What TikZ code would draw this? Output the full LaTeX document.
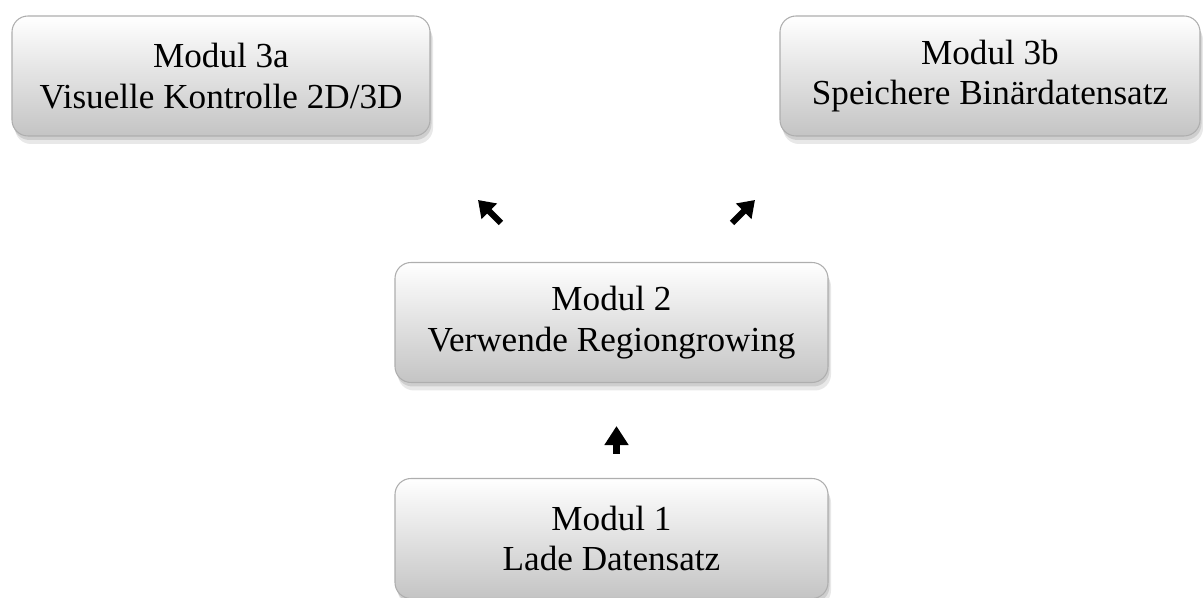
\documentclass[tikz,border=0pt]{standalone}
\usepackage{fontspec}
\setmainfont{Liberation Serif}
\usepackage{xcolor}
\usepackage{tikz}
\usetikzlibrary{arrows.meta,positioning,shadows}
\definecolor{boxline}{HTML}{AEAEAE}
\definecolor{boxbottom}{HTML}{C4C4C4}
\tikzset{
  ModBox/.style={
    draw=boxline, line width=0.6pt,
    rounded corners=3.2mm,
    top color=white, bottom color=boxbottom,
    minimum height=2.4cm,
    align=center, font=\fontsize{20}{23}\selectfont,
    drop shadow={shadow xshift=0.6mm, shadow yshift=-1.6mm,
      fill=black!60, opacity=0.15},
    drop shadow={shadow xshift=0.3mm, shadow yshift=-0.8mm,
      fill=black!60, opacity=0.2}
  },
  FlowArrow/.style={
    line width=4pt,
    -{Triangle[width=4.6mm, length=3.8mm]}
  },
  SideArrow/.style={
    line width=3.6pt,
    -{Triangle[width=4.2mm, length=3.2mm]}
  }
}

\begin{document}
\begin{tikzpicture}[line cap=butt, line join=miter]
  \useasboundingbox (0,0) rectangle (24.06,-11.96);
  % module boxes
  \node[ModBox, minimum width=8.66cm] (m1) at (12.23,-10.77) {Modul 1\\Lade Datensatz};
  \node[ModBox, minimum width=8.66cm] (m2) at (12.23,-6.45) {Modul 2\\Verwende Regiongrowing};
  \node[ModBox, minimum width=8.36cm] (m3a) at (4.42,-1.52) {Modul 3a\\Visuelle Kontrolle 2D/3D};
  \node[ModBox, minimum width=8.40cm] (m3b) at (19.80,-1.52) {Modul 3b\\Speichere Binärdatensatz};

  % short arrows between the modules
  \coordinate (lt) at (10.02,-4.46);  % tail towards 3a
  \coordinate (lh) at (9.56,-4.00);
  \coordinate (rt) at (14.64,-4.46);  % tail towards 3b
  \coordinate (rh) at (15.10,-4.00);
  \draw[FlowArrow, shorten <=0.48cm, shorten >=0.86cm] ([xshift=1mm]m1.north) -- ([xshift=1mm]m2.south);
  \draw[SideArrow] (lt) -- (lh);
  \draw[SideArrow] (rt) -- (rh);
\end{tikzpicture}
\end{document}
